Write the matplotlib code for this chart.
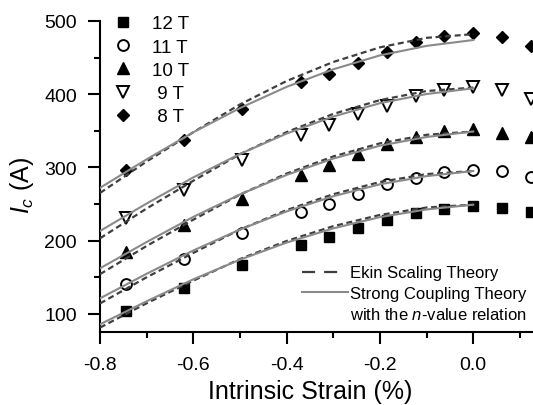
import matplotlib
matplotlib.use("Agg")
import matplotlib.pyplot as plt
from matplotlib.lines import Line2D
from matplotlib.ticker import MultipleLocator

plt.rcParams['font.family'] = ['Liberation Sans', 'DejaVu Sans']
plt.rcParams['mathtext.fontset'] = 'custom'
plt.rcParams['mathtext.rm'] = 'Liberation Sans'
plt.rcParams['mathtext.it'] = 'Liberation Sans:italic'
plt.rcParams['lines.scale_dashes'] = False

# ---- data ----
strain = [-0.745, -0.62, -0.495, -0.37, -0.31, -0.247, -0.185, -0.123, -0.062, 0.0, 0.062, 0.124]
ic_12T = [103.6, 135.7, 167, 193.6, 204.6, 217, 228, 237.5, 243, 247, 244.6, 239]
ic_11T = [140, 174.5, 210.5, 239, 250, 263.6, 276.7, 286, 293.6, 296, 295, 287]
ic_10T = [185, 221, 257, 289, 302.6, 318.6, 332, 342, 349.5, 352.7, 347, 341]
ic_9T = [231, 268.5, 309.6, 343.6, 358, 373, 384.5, 397, 406, 409.5, 406, 393.6]
ic_8T = [297, 338, 380, 416, 427, 442, 457, 471, 480, 483, 478.6, 466]

curve_strain = [-0.8, -0.7, -0.6, -0.5, -0.4, -0.3, -0.2, -0.1, 0.0]
ekin_12T = [81, 114.3, 145.2, 174.7, 199.4, 219.6, 235, 245.1, 249]
ekin_11T = [114, 149.8, 183.1, 215, 241.6, 263.3, 280, 290.8, 295]
ekin_10T = [154, 192.6, 228.5, 262.8, 291.5, 314.9, 332.8, 344.5, 349]
ekin_9T = [203, 243.8, 281.7, 318, 348.2, 373, 391.9, 404.3, 409]
ekin_8T = [265, 308, 348, 386, 418, 444, 464, 477, 482]

scm_12T = [85.5, 117, 147, 173.8, 197.2, 216.6, 232, 242.5, 249]
scm_11T = [121, 154.6, 186.4, 215, 239.8, 260.5, 276.9, 288, 295]
scm_10T = [162, 198, 232.3, 263, 289.7, 312, 329.6, 341.5, 349]
scm_9T = [213, 250.6, 286.3, 318.3, 346.2, 369.4, 387.7, 400.2, 408]
scm_8T = [272, 311, 348, 381, 410, 434, 453, 466, 474]

field_labels = ["12 T", "11 T", "10 T", " 9 T", " 8 T"]
xticks = [-0.8, -0.6, -0.4, -0.2, 0.0]
xticklabels = ["-0.8", "-0.6", "-0.4", "-0.2", "0.0"]
yticks = [100, 200, 300, 400, 500]

# ---- figure ----
fig = plt.figure(figsize=(5.33, 4.06), dpi=100)
ax = fig.add_axes([100/533, 1-333/406, 433/533, 311/406])

series = [ic_12T, ic_11T, ic_10T, ic_9T, ic_8T]
styles = [
    dict(marker='s', ms=6.5, mfc='black', mec='black', mew=1.0),
    dict(marker='o', ms=7.8, mfc='white', mec='black', mew=1.4),
    dict(marker='^', ms=8.0, mfc='black', mec='black', mew=1.0),
    dict(marker='v', ms=8.0, mfc='white', mec='black', mew=1.4),
    dict(marker='D', ms=6.0, mfc='black', mec='black', mew=1.0),
]
handles = []
for vals, st, lab in zip(series, styles, field_labels):
    h, = ax.plot(strain, vals, ls='none', zorder=2, clip_on=False, label=lab, **st)
    handles.append(h)

dash_col = '#3f3f3f'
solid_col = '#8a8a8a'
for ek in [ekin_12T, ekin_11T, ekin_10T, ekin_9T, ekin_8T]:
    ax.plot(curve_strain, ek, color=dash_col, lw=1.6, dashes=(4.3, 2.6), zorder=3)
for sc in [scm_12T, scm_11T, scm_10T, scm_9T, scm_8T]:
    ax.plot(curve_strain, sc, color=solid_col, lw=1.5, zorder=4)

ax.set_xlim(-0.8, 0.128)
ax.set_ylim(75, 500)
ax.set_xticks(xticks)
ax.set_xticklabels(xticklabels)
ax.set_yticks(yticks)
ax.xaxis.set_minor_locator(MultipleLocator(0.1))
ax.yaxis.set_minor_locator(MultipleLocator(50))

for s in ['top', 'right']:
    ax.spines[s].set_visible(False)
for s in ['left', 'bottom']:
    ax.spines[s].set_linewidth(1.5)
ax.tick_params(which='major', direction='out', length=8.6, width=1.5, labelsize=14)
ax.tick_params(which='minor', direction='out', length=4.3, width=1.5)
ax.tick_params(axis='x', which='major', pad=9)
ax.tick_params(axis='y', which='major', pad=8)

ax.set_xlabel("Intrinsic Strain (%)", fontsize=18)
ax.xaxis.set_label_coords(0.485, -0.150)
ax.set_ylabel(r"$I_c$ (A)", fontsize=18)
ax.yaxis.set_label_coords(-0.148, 0.476)

leg1 = ax.legend(handles=handles, loc='upper left', bbox_to_anchor=(0.031, 1.019),
                 frameon=False, fontsize=13.5, handlelength=1.0, handletextpad=1.05,
                 labelspacing=0.33, borderpad=0, borderaxespad=0, numpoints=1)
ax.add_artist(leg1)

h_ekin = Line2D([], [], color=dash_col, lw=1.6, dashes=(9.4, 6.5, 9.4, 25))
h_scm = Line2D([], [], color=solid_col, lw=1.5)
h_blank = Line2D([], [], color='none', lw=0)
ax.legend([h_ekin, h_scm, h_blank],
          ["Ekin Scaling Theory", "Strong Coupling Theory", r"with the $n$-value relation"],
          loc='upper left', bbox_to_anchor=(0.4665, 0.214), frameon=False, fontsize=12,
          handlelength=2.76, handletextpad=0.15, labelspacing=0.31, borderpad=0,
          borderaxespad=0)

fig.savefig("out.png", dpi=100)
